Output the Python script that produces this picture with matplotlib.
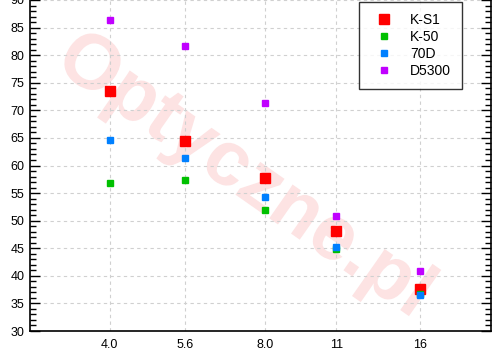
import numpy as np
import matplotlib
matplotlib.use("Agg")
import matplotlib.pyplot as plt
from matplotlib.ticker import MultipleLocator
import matplotlib.patheffects as pe

apertures = [4.0, 5.6, 8.0, 11, 16]
xtick_labels = ["4.0", "5.6", "8.0", "11", "16"]
series_names = ["K-S1", "K-50", "70D", "D5300"]
ks1 = [73.5, 64.5, 57.7, 48.2, 37.6]
k50 = [56.9, 57.3, 52.0, 44.8, 36.7]
d70 = [64.7, 61.3, 54.2, 45.3, 36.6]
d5300 = [86.3, 81.6, 71.4, 50.8, 40.8]

colors = ["#ff0000", "#00c000", "#0080ff", "#c000ff"]
sizes = [6.6, 4.4, 4.4, 4.4]

plt.rcParams['font.family'] = ['Liberation Sans', 'DejaVu Sans']
fig = plt.figure(figsize=(4.94, 3.52), dpi=100)
W, H = 494, 352
ax = fig.add_axes([30 / W, 21 / H, (491 - 30) / W, (352 - 21) / H])

# watermark (behind grid and markers)
ax.text(0.495, 0.50, "Optyczne.pl", transform=fig.transFigure, fontsize=56, fontweight='bold',
        color='#fde3e3', rotation=-35, ha='center', va='center', zorder=0.1,
        path_effects=[pe.SimpleLineShadow(offset=(4, -4), shadow_color='#e8e8e8', alpha=0.6), pe.Normal()])

xs = np.log2(apertures)
for vals, name, c, ms in zip([ks1, k50, d70, d5300], series_names, colors, sizes):
    ax.plot(xs, vals, linestyle='none', marker='s', ms=ms, color=c, mec=c, label=name, zorder=3)

ax.set_xlim(1.488, 4.456)
ax.set_ylim(30, 90)
ax.set_xticks(xs)
ax.set_xticklabels(xtick_labels)
ax.yaxis.set_major_locator(MultipleLocator(5))
ax.yaxis.set_minor_locator(MultipleLocator(1))
ax.tick_params(axis='x', length=0, labelsize=9, pad=6)
ax.tick_params(axis='y', which='major', direction='in', length=7, width=1, right=True, labelsize=9, pad=4)
ax.tick_params(axis='y', which='minor', direction='in', length=4, width=1, right=True)
ax.grid(True, which='major', color='#d0d0d0', linestyle=(0, (3, 3)), linewidth=0.8, zorder=0.5)
ax.set_axisbelow(True)
for s in ['left', 'right', 'bottom']:
    ax.spines[s].set_linewidth(1.2)
ax.spines['top'].set_visible(False)

leg = ax.legend(loc='upper right', bbox_to_anchor=(461.5 / W, 1 - 2.5 / H), bbox_transform=fig.transFigure,
                borderaxespad=0, frameon=True, fancybox=False, edgecolor='black', fontsize=10,
                handletextpad=0.8, borderpad=0.75, labelspacing=0.22, handlelength=2.1)
leg.get_frame().set_linewidth(1.0)
leg.set_zorder(5)

fig.savefig("out.png", dpi=100)
